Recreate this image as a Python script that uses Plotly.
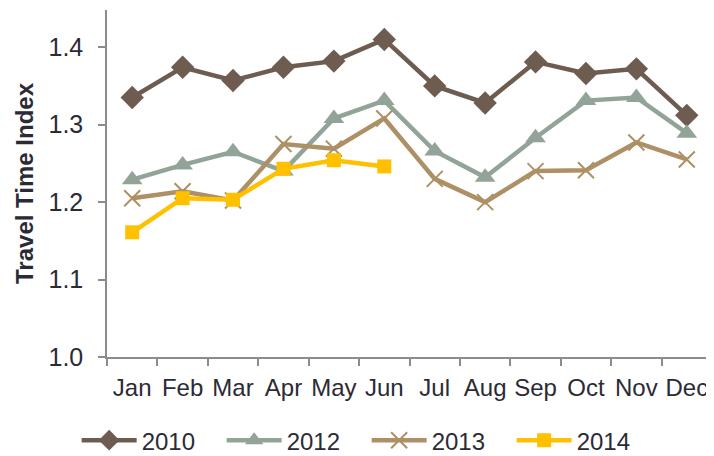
import plotly.graph_objects as go

months = ["Jan", "Feb", "Mar", "Apr", "May", "Jun", "Jul", "Aug", "Sep", "Oct", "Nov", "Dec"]
y2010 = [1.335, 1.374, 1.357, 1.374, 1.382, 1.410, 1.350, 1.328, 1.381, 1.366, 1.372, 1.312]
y2012 = [1.229, 1.248, 1.265, 1.240, 1.308, 1.331, 1.266, 1.232, 1.283, 1.331, 1.335, 1.289]
y2013 = [1.205, 1.214, 1.202, 1.275, 1.269, 1.308, 1.230, 1.200, 1.240, 1.241, 1.277, 1.255]
y2014 = [1.161, 1.205, 1.203, 1.243, 1.254, 1.246]

fig = go.Figure()
fig.add_trace(go.Scatter(x=months, y=y2010, name="2010", mode="lines+markers",
                         line=dict(color="#6E5C50", width=4.5),
                         marker=dict(symbol="diamond", size=18, color="#6E5C50")))
fig.add_trace(go.Scatter(x=months, y=y2012, name="2012", mode="lines+markers",
                         line=dict(color="#92A398", width=4.5),
                         marker=dict(symbol="triangle-up", size=18, color="#92A398")))
fig.add_trace(go.Scatter(x=months, y=y2013, name="2013", mode="lines+markers",
                         line=dict(color="#AD9065", width=4.5),
                         marker=dict(symbol="x-thin", size=16, color="#AD9065",
                                     line=dict(color="#AD9065", width=2))))
fig.add_trace(go.Scatter(x=months[:len(y2014)], y=y2014, name="2014", mode="lines+markers",
                         line=dict(color="#FFC000", width=4.5),
                         marker=dict(symbol="square", size=14, color="#FFC000")))

fig.update_layout(
    width=706, height=448,
    margin=dict(l=99, r=2, t=2, b=99, autoexpand=False),
    paper_bgcolor="white", plot_bgcolor="white",
    font=dict(family="Liberation Sans, Arial, sans-serif", color="#2B2B36"),
    showlegend=True,
    legend=dict(orientation="h", xref="container", x=0.508, xanchor="center",
                y=-0.176, yanchor="top", entrywidth=75, entrywidthmode="pixels",
                font=dict(size=24), itemwidth=55, traceorder="normal"),
    xaxis=dict(type="category", range=[-0.5, 11.5], showgrid=False, zeroline=False,
               automargin=False, tickangle=0, ticklabelstandoff=8,
               showline=True, linecolor="#8C8C8C", linewidth=1.5,
               ticks="outside", tickson="boundaries", ticklen=7, tickcolor="#8C8C8C",
               tickwidth=1.5, tickfont=dict(size=24)),
    yaxis=dict(range=[1.0, 1.448], tickvals=[1.0, 1.1, 1.2, 1.3, 1.4],
               ticktext=["1.0", "1.1", "1.2", "1.3", "1.4"], automargin=False,
               ticklabelstandoff=10,
               showgrid=False, zeroline=False, showline=True, linecolor="#8C8C8C",
               linewidth=1.5, ticks="outside", ticklen=7, tickcolor="#8C8C8C",
               tickwidth=1.5, tickfont=dict(size=25),
               title=dict(text="<b>Travel Time Index</b>", font=dict(size=24), standoff=8)),
)

fig.write_html("out.html")
